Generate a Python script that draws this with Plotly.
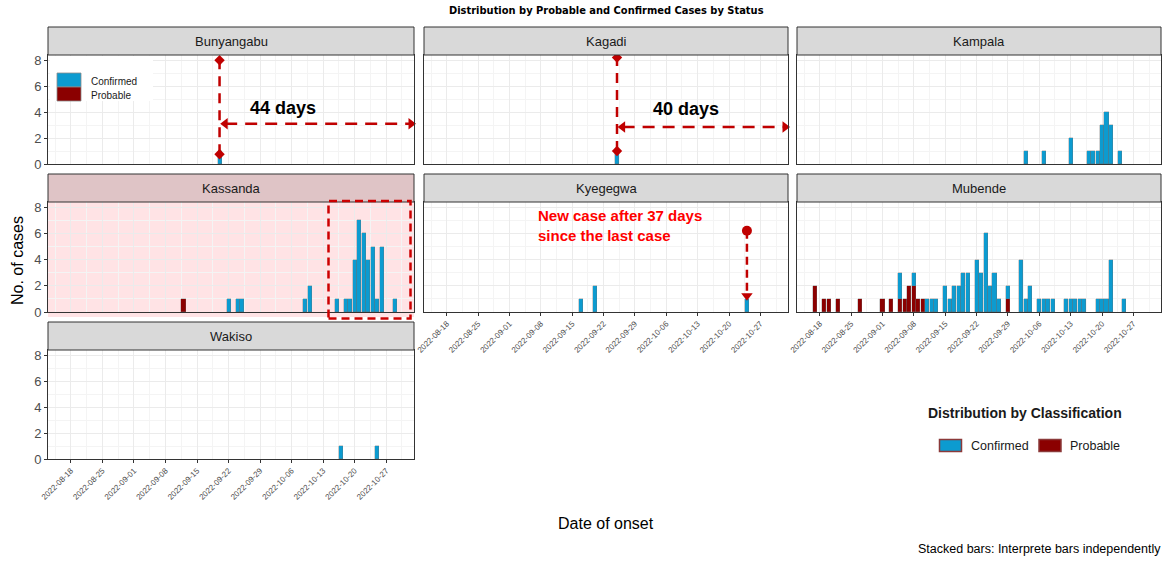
import plotly.graph_objects as go

W, H = 1165, 562

# ---------------- data ----------------
districts = ["Bunyangabu", "Kagadi", "Kampala", "Kassanda", "Kyegegwa", "Mubende", "Wakiso"]

bunyangabu_conf_dates = ["2022-09-20"]
bunyangabu_conf_counts = [1]

kagadi_conf_dates = ["2022-09-25"]
kagadi_conf_counts = [1]

kampala_conf_dates = ["2022-10-03", "2022-10-07", "2022-10-13", "2022-10-17", "2022-10-18",
                      "2022-10-19", "2022-10-20", "2022-10-21", "2022-10-22", "2022-10-24"]
kampala_conf_counts = [1, 1, 2, 1, 1, 1, 3, 4, 3, 1]

kassanda_conf_dates = ["2022-09-22", "2022-09-24", "2022-09-25", "2022-10-09", "2022-10-10",
                       "2022-10-16", "2022-10-18", "2022-10-19", "2022-10-20", "2022-10-21",
                       "2022-10-22", "2022-10-23", "2022-10-24", "2022-10-25", "2022-10-26",
                       "2022-10-29"]
kassanda_conf_counts = [1, 1, 1, 1, 2, 1, 1, 1, 4, 7, 6, 4, 5, 1, 5, 1]
kassanda_prob_dates = ["2022-09-12"]
kassanda_prob_counts = [1]

kyegegwa_conf_dates = ["2022-09-17", "2022-09-20", "2022-10-24"]
kyegegwa_conf_counts = [1, 2, 1]

mubende_prob_dates = ["2022-08-17", "2022-08-19", "2022-08-20", "2022-08-22", "2022-08-27",
                      "2022-09-01", "2022-09-03", "2022-09-05", "2022-09-06", "2022-09-07",
                      "2022-09-08", "2022-09-09", "2022-09-10", "2022-09-29"]
mubende_prob_counts = [2, 1, 1, 1, 1, 1, 1, 1, 1, 2, 2, 1, 1, 1]
mubende_conf_dates = ["2022-09-05", "2022-09-08", "2022-09-11", "2022-09-12", "2022-09-13",
                      "2022-09-15", "2022-09-16", "2022-09-17", "2022-09-18", "2022-09-19",
                      "2022-09-20", "2022-09-22", "2022-09-23", "2022-09-24", "2022-09-25",
                      "2022-09-26", "2022-09-27", "2022-09-29", "2022-10-02", "2022-10-03",
                      "2022-10-04", "2022-10-06", "2022-10-07", "2022-10-08", "2022-10-09",
                      "2022-10-12", "2022-10-13", "2022-10-14", "2022-10-15", "2022-10-16",
                      "2022-10-19", "2022-10-20", "2022-10-21", "2022-10-22", "2022-10-25"]
mubende_conf_counts = [2, 1, 1, 1, 1, 2, 1, 2, 2, 3, 3, 4, 3, 6, 2, 3, 1, 1, 4, 1,
                       2, 1, 1, 1, 1, 1, 1, 1, 1, 1, 1, 1, 1, 4, 1]

wakiso_conf_dates = ["2022-10-17", "2022-10-25"]
wakiso_conf_counts = [1, 1]

confirmed = {
    "Bunyangabu": (bunyangabu_conf_dates, bunyangabu_conf_counts),
    "Kagadi": (kagadi_conf_dates, kagadi_conf_counts),
    "Kampala": (kampala_conf_dates, kampala_conf_counts),
    "Kassanda": (kassanda_conf_dates, kassanda_conf_counts),
    "Kyegegwa": (kyegegwa_conf_dates, kyegegwa_conf_counts),
    "Mubende": (mubende_conf_dates, mubende_conf_counts),
    "Wakiso": (wakiso_conf_dates, wakiso_conf_counts),
}
probable = {
    "Kassanda": (kassanda_prob_dates, kassanda_prob_counts),
    "Mubende": (mubende_prob_dates, mubende_prob_counts),
}

x_ticks = ["2022-08-18", "2022-08-25", "2022-09-01", "2022-09-08", "2022-09-15", "2022-09-22",
           "2022-09-29", "2022-10-06", "2022-10-13", "2022-10-20", "2022-10-27"]
y_ticks = [0, 2, 4, 6, 8]

# ---------------- style ----------------
BLUE = "#0C9BD0"
DARKRED = "#8B0000"
ARROW = "#C00000"
DAY = 86400000
FONT = "Liberation Sans, Arial, sans-serif"

def px(x):
    return x / W

def py(y):
    return 1 - y / H

cols = [(48, 414), (424, 788), (797, 1161)]
rows = [(55, 164), (202, 312), (350, 459)]
pos = {"Bunyangabu": (0, 0), "Kagadi": (0, 1), "Kampala": (0, 2),
       "Kassanda": (1, 0), "Kyegegwa": (1, 1), "Mubende": (1, 2), "Wakiso": (2, 0)}
xlabels = {"Kyegegwa", "Mubende", "Wakiso"}
ylabels = {"Bunyangabu", "Kassanda", "Wakiso"}

fig = go.Figure()
layout = dict(width=W, height=H, margin=dict(l=0, r=0, t=0, b=0, autoexpand=False),
              paper_bgcolor="white", plot_bgcolor="white", barmode="stack",
              showlegend=False, font=dict(family=FONT), bargap=0)
shapes = []
annotations = []


def note(text, x, y, size, color="#1A1A1A", xanchor="center", **kw):
    d = dict(text=text, xref="paper", yref="paper", x=px(x), y=py(y), showarrow=False,
             xanchor=xanchor, yanchor="middle", font=dict(size=size, color=color))
    d.update(kw)
    annotations.append(d)


for i, d in enumerate(districts, start=1):
    r, c = pos[d]
    xs = "" if i == 1 else str(i)
    (x0, x1), (y0, y1) = cols[c], rows[r]
    layout["xaxis" + xs] = dict(
        domain=[px(x0), px(x1)], anchor="y" + xs, type="date", automargin=False,
        range=["2022-08-12 22:00", "2022-11-02 04:00"],
        tickvals=x_ticks, ticktext=x_ticks, tickangle=-45,
        showticklabels=d in xlabels, ticks="outside" if d in xlabels else "",
        ticklen=3, tickcolor="#333333",
        tickfont=dict(size=8, color="#4D4D4D"),
        showline=True, mirror=True, linecolor="#333333", linewidth=1,
        showgrid=True, gridcolor="#EBEBEB", gridwidth=1, zeroline=False,
        minor=dict(tick0="2022-08-14 12:00", dtick=7 * DAY, showgrid=True,
                   gridcolor="#F4F4F4", gridwidth=0.6),
    )
    layout["yaxis" + xs] = dict(
        domain=[py(y1), py(y0)], anchor="x" + xs, range=[0, 8.4], automargin=False,
        tickvals=y_ticks, showticklabels=d in ylabels,
        ticks="outside" if d in ylabels else "", ticklen=3, tickcolor="#333333",
        tickfont=dict(size=13, color="#4D4D4D"),
        showline=True, mirror=True, linecolor="#333333", linewidth=1,
        showgrid=True, gridcolor="#EBEBEB", gridwidth=1, zeroline=False,
        minor=dict(tick0=1, dtick=2, showgrid=True, gridcolor="#F4F4F4", gridwidth=0.6),
    )
    # strip
    strip_fill = "#DFC4C6" if d == "Kassanda" else "#D9D9D9"
    shapes.append(dict(type="rect", xref="paper", yref="paper",
                       x0=px(x0), x1=px(x1), y0=py(y0), y1=py(y0 - 28),
                       fillcolor=strip_fill, line=dict(color="#333333", width=1),
                       layer="above"))
    note(d, (x0 + x1) / 2, y0 - 14, 13)
    if d in probable:
        pd_, pc_ = probable[d]
        fig.add_trace(go.Bar(x=pd_, y=pc_, xaxis="x" + xs, yaxis="y" + xs,
                             width=0.9 * DAY, marker=dict(color=DARKRED,
                             line=dict(color="rgba(110,110,110,0.6)", width=0.5)),
                             name="Probable"))
    cd_, cc_ = confirmed[d]
    fig.add_trace(go.Bar(x=cd_, y=cc_, xaxis="x" + xs, yaxis="y" + xs,
                         width=0.9 * DAY, marker=dict(color=BLUE,
                         line=dict(color="rgba(110,110,110,0.6)", width=0.5)),
                         name="Confirmed"))

# Kassanda pink panel background
shapes.append(dict(type="rect", xref="paper", yref="paper", x0=px(48), x1=px(414),
                   y0=py(317), y1=py(202), fillcolor="#FFE3E5", line=dict(width=0),
                   layer="below"))
# dashed highlight box in Kassanda
shapes.append(dict(type="rect", xref="paper", yref="paper", x0=px(328.5), x1=px(410.5),
                   y0=py(318.5), y1=py(201), fillcolor="rgba(0,0,0,0)",
                   line=dict(color="#CC0000", width=2.5, dash="8px,5px"), layer="above"))

# ---------------- arrows ----------------
def add_line(xs, ys, ax, symbols, dash="10px,7px", size=9):
    fig.add_trace(go.Scatter(x=xs, y=ys, xaxis="x" + ax, yaxis="y" + ax,
                             mode="lines+markers", cliponaxis=False,
                             line=dict(color=ARROW, width=2.5, dash=dash),
                             marker=dict(symbol=symbols, size=size, color=ARROW,
                                         line=dict(width=0)),
                             hoverinfo="skip"))

# Bunyangabu (axis "")
add_line(["2022-09-20", "2022-09-20"], [0.75, 8.0], "", ["diamond", "diamond"], size=8)
add_line(["2022-09-21 06:00", "2022-11-01 12:00"], [3.1, 3.1], "",
         ["triangle-left", "triangle-right"], dash="12px,8px", size=10)
annotations.append(dict(text="<b>44 days</b>", xref="x", yref="y", x="2022-10-04",
                        y=4.35, showarrow=False, xanchor="center", yanchor="middle",
                        font=dict(size=18, color="black")))
# Kagadi (axis "2")
add_line(["2022-09-25", "2022-09-25"], [1.0, 8.2], "2", ["diamond", "diamond"], size=8)
add_line(["2022-09-26 06:00", "2022-11-01 12:00"], [2.85, 2.85], "2",
         ["triangle-left", "triangle-right"], dash="12px,8px", size=10)
annotations.append(dict(text="<b>40 days</b>", xref="x2", yref="y2", x="2022-10-10 10:00",
                        y=4.25, showarrow=False, xanchor="center", yanchor="middle",
                        font=dict(size=18, color="black")))
# Kyegegwa (axis "5")
add_line(["2022-10-24", "2022-10-24"], [6.2, 1.25], "5", ["circle", "triangle-down"],
         dash="8px,5px", size=10)
annotations.append(dict(text="<b>New case after 37 days<br>since the last case</b>",
                        xref="x5", yref="y5", x="2022-09-07", y=6.6, xanchor="left",
                        yanchor="middle", align="left", showarrow=False,
                        font=dict(size=15, color="#FF0000")))

# ---------------- legends (drawn) ----------------
shapes.append(dict(type="rect", xref="paper", yref="paper", x0=px(50), x1=px(153),
                   y0=py(101), y1=py(56), fillcolor="white", line=dict(width=0),
                   layer="above"))
shapes.append(dict(type="rect", xref="paper", yref="paper", x0=px(57), x1=px(81),
                   y0=py(87), y1=py(73), fillcolor=BLUE,
                   line=dict(color="#8C8C8C", width=0.8), layer="above"))
shapes.append(dict(type="rect", xref="paper", yref="paper", x0=px(57), x1=px(81),
                   y0=py(101), y1=py(87), fillcolor=DARKRED,
                   line=dict(color="#8C8C8C", width=0.8), layer="above"))
note("Confirmed", 89, 81, 10, xanchor="left")
note("Probable", 89, 95, 10, xanchor="left")

note("<b>Distribution by Classification</b>", 1025, 413, 14)
shapes.append(dict(type="rect", xref="paper", yref="paper", x0=px(939.5), x1=px(961.5),
                   y0=py(451.5), y1=py(439.5), fillcolor=BLUE,
                   line=dict(color="#8B3A3A", width=1.5), layer="above"))
shapes.append(dict(type="rect", xref="paper", yref="paper", x0=px(1039), x1=px(1061),
                   y0=py(451.5), y1=py(439.5), fillcolor=DARKRED,
                   line=dict(color="#8B3A3A", width=1.5), layer="above"))
note("Confirmed", 969, 446, 12.5, xanchor="left")
note("Probable", 1068, 446, 12.5, xanchor="left")

# ---------------- titles ----------------
annotations.append(dict(text="<b>Distribution by Probable and Confirmed Cases by Status</b>",
                        xref="paper", yref="paper", x=px(606), y=py(11), showarrow=False,
                        xanchor="center", yanchor="middle",
                        font=dict(size=11, color="black",
                                  family="Liberation Sans Narrow, DejaVu Sans Condensed, Arial")))
note("No. of cases", 17, 261, 16, color="black", textangle=-90)
note("Date of onset", 606, 523, 16, color="black")
note("Stacked bars: Interprete bars independently", 1163, 549, 12.5, color="black",
     xanchor="right")

layout["shapes"] = shapes
layout["annotations"] = annotations
fig.update_layout(**layout)
fig.write_html("out.html", config={"displayModeBar": False},
               post_script="document.body.style.margin='0px';"
                           "document.body.style.overflow='hidden';")
